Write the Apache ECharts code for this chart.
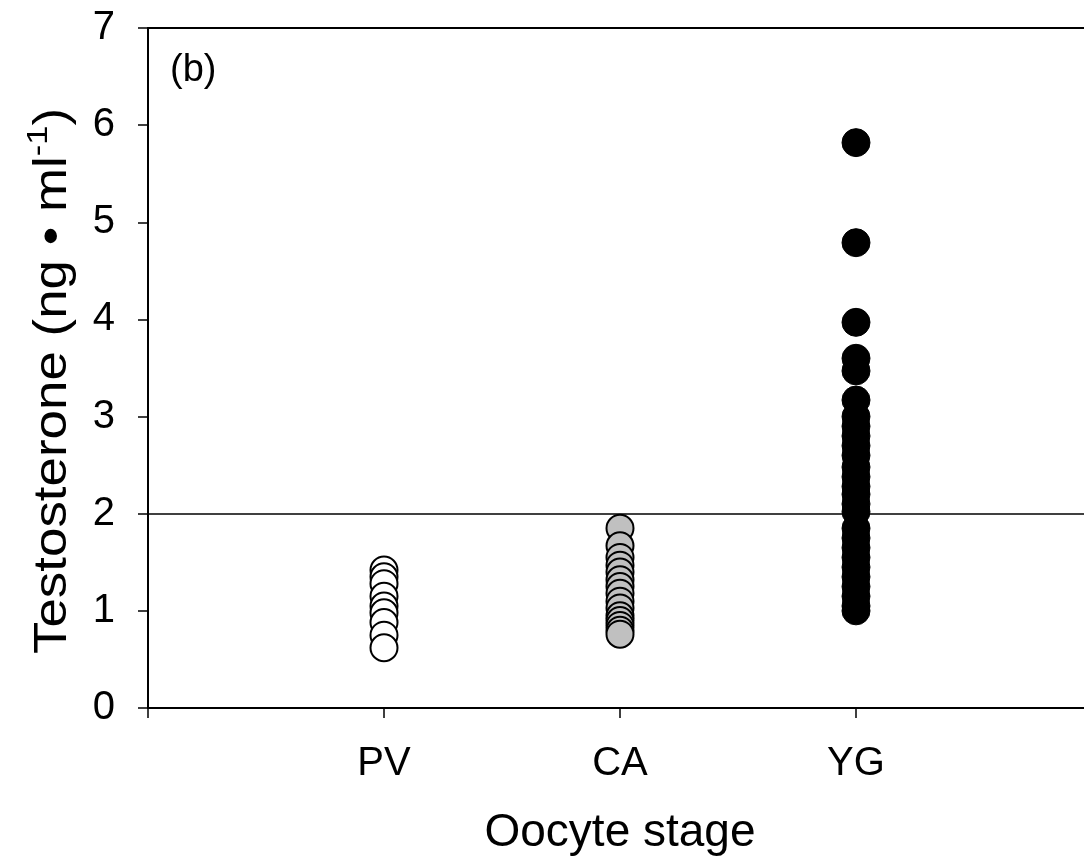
<!DOCTYPE html>
<html>
<head>
<meta charset="utf-8">
<script src="https://cdn.jsdelivr.net/npm/echarts@6/dist/echarts.min.js"></script>
<style>html,body{margin:0;padding:0;background:#fff;overflow:hidden}#c{width:1084px;height:867px}</style>
</head>
<body>
<div id="c"></div>
<script>
const categories = ['PV', 'CA', 'YG'];
const pvValues = [1.42, 1.35, 1.28, 1.15, 1.05, 0.98, 0.88, 0.75, 0.62];
const caValues = [1.85, 1.67, 1.55, 1.47, 1.4, 1.32, 1.25, 1.18, 1.1, 1.03, 0.95, 0.9, 0.85, 0.8, 0.76];
const ygValues = [5.82, 4.79, 3.97, 3.6, 3.47, 3.17, 3.0, 2.9, 2.8, 2.7, 2.6, 2.48, 2.38, 2.28, 2.2, 2.1, 2.02, 1.85, 1.75, 1.65, 1.55, 1.45, 1.35, 1.25, 1.15, 1.05, 1.0];
const yTicks = [0, 1, 2, 3, 4, 5, 6, 7];
const refLine = 2;

const font = 'Liberation Sans, Arial, sans-serif';
function pts(idx, arr){ return arr.map(v => [idx + 1, v]); }

const chart = echarts.init(document.getElementById('c'), null, {renderer: 'canvas'});
chart.setOption({
  backgroundColor: '#fff',
  animation: false,
  grid: {left: 148, top: 28, width: 944, bottom: 159, containLabel: false, outerBoundsMode: 'none'},
  xAxis: [{
    type: 'value', min: 0, max: 4, interval: 1,
    name: 'Oocyte stage', nameLocation: 'middle', nameGap: 102,
    nameTextStyle: {fontFamily: font, fontSize: 46, color: '#000'},
    axisLine: {show: true, onZero: false, lineStyle: {color: '#000', width: 2}},
    axisTick: {show: true, length: 10, lineStyle: {color: '#000', width: 1.5}},
    axisLabel: {margin: 36, fontFamily: font, fontSize: 40, color: '#000',
      formatter: v => (v >= 1 && v <= 3) ? categories[v - 1] : ''},
    splitLine: {show: false}
  }, {
    type: 'value', position: 'top', min: 0, max: 4,
    axisLine: {show: true, onZero: false, lineStyle: {color: '#000', width: 2}},
    axisTick: {show: false}, axisLabel: {show: false}, splitLine: {show: false}
  }],
  yAxis: {
    type: 'value', min: 0, max: 7, interval: 1,
    axisLine: {show: true, onZero: false, lineStyle: {color: '#000', width: 2}},
    axisTick: {show: true, length: 10, lineStyle: {color: '#000', width: 1.5}},
    axisLabel: {margin: 33, fontFamily: font, fontSize: 40, color: '#000',
      formatter: v => yTicks.includes(v) ? String(v) : ''},
    splitLine: {show: false}
  },
  graphic: [
    {type: 'text', left: 170, top: 52, style: {text: '(b)', font: '38px ' + font, fill: '#000'}},
    {type: 'text', x: 50, y: 381, rotation: Math.PI / 2, scaleX: 1.15, scaleY: 1,
      style: {
        text: '{a|Testosterone (ng • ml}{s|-1}{a|)}',
        align: 'center', verticalAlign: 'middle',
        font: '46px ' + font, fill: '#000',
        rich: {
          a: {fontFamily: font, fontSize: 46, fill: '#000', lineHeight: 52, verticalAlign: 'bottom'},
          s: {fontFamily: font, fontSize: 30, fill: '#000', lineHeight: 52, verticalAlign: 'top', padding: [0, 0, 16, 0]}
        }
      }}
  ],
  series: [
    {type: 'scatter', data: pts(0, pvValues), symbol: 'circle', symbolSize: 27,
      itemStyle: {color: '#fff', borderColor: '#000', borderWidth: 2, opacity: 1},
      markLine: {silent: true, symbol: 'none', label: {show: false},
        lineStyle: {color: '#000', width: 1.5, type: 'solid'}, data: [{yAxis: refLine}]}},
    {type: 'scatter', data: pts(1, caValues), symbol: 'circle', symbolSize: 27,
      itemStyle: {color: '#c0c0c0', borderColor: '#000', borderWidth: 2, opacity: 1}},
    {type: 'scatter', data: pts(2, ygValues), symbol: 'circle', symbolSize: 28,
      itemStyle: {color: '#000', borderColor: '#000', borderWidth: 1, opacity: 1}}
  ]
});
</script>
</body>
</html>
